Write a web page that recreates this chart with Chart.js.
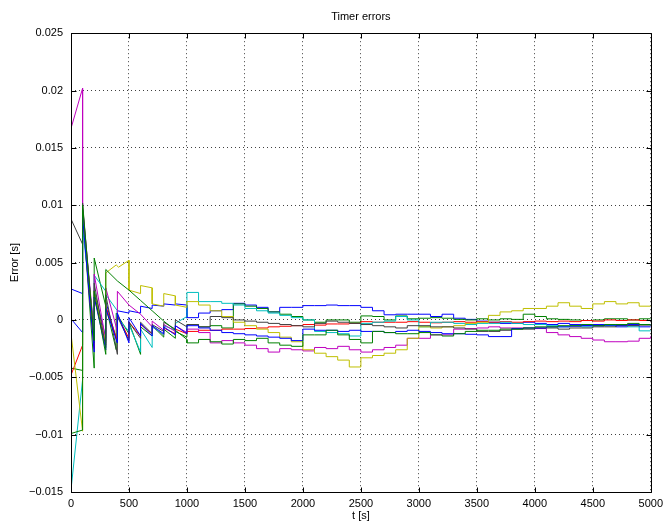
<!DOCTYPE html>
<html>
<head>
<meta charset="utf-8">
<title>Timer errors</title>
<script src="https://cdn.jsdelivr.net/npm/chart.js@4.4.1/dist/chart.umd.min.js"></script>
<style>
  html, body { margin: 0; padding: 0; background: #fff; }
  canvas { display: block; }
</style>
</head>
<body>
<canvas id="timerChart" width="668" height="523"></canvas>
<script>
// axis ticks
const xTicks = [0, 500, 1000, 1500, 2000, 2500, 3000, 3500, 4000, 4500, 5000];
const yTicks = [-0.015, -0.01, -0.005, 0, 0.005, 0.01, 0.015, 0.02, 0.025];

// after t=1000 every timer holds one level per 100 s step
const stepTimes = [1000, 1100, 1200, 1300, 1400, 1500, 1600, 1700, 1800, 1900,
                   2000, 2100, 2200, 2300, 2400, 2500, 2600, 2700, 2800, 2900,
                   3000, 3100, 3200, 3300, 3400, 3500, 3600, 3700, 3800, 3900,
                   4000, 4100, 4200, 4300, 4400, 4500, 4600, 4700, 4800, 4900, 5000];

// first 1000 s: [t, error] points, sawtooth with jumps
const blue1Early = [[0,0.0027],[100,0.0023],[100,0.0092],[200,-0.0012],[200,0.0026],[300,-0.0016],[300,0.0016],[400,-0.0020],[400,0.0008],[500,0.0006],[500,0.0008],[600,0.0006],[600,0.0012],[700,0.0010],[700,0.0013],[800,0.0012],[800,0.0014],[900,0.0013],[900,0.0014],[1000,0.0013]];
const blue1Steps = [0.0002,0.0006,0.0008,0.0009,0.00145,0.0013,0.0011,0.0007,0.0011,0.0011,
                    0.00125,0.00125,0.0013,0.00125,0.00125,0.0011,0.0008,0.00045,0.0005,0.0005,
                    0.0005,0.0003,0.0005,0.00015,0.00005,-0.0001,-0.0002,-0.0003,-0.0003,-0.0002,
                    -0.0003,-0.0004,-0.0003,-0.0004,-0.0005,-0.0004,-0.0005,-0.0006,-0.0005,-0.0006,-0.0006];

const green1Early = [[0,-0.0042],[100,-0.0044],[100,0.0096],[200,-0.0042],[200,0.0054],[390,-0.0026],[390,0.0006],[500,-0.0012],[500,-0.0002],[600,-0.0030],[600,-0.0006],[700,-0.0014],[700,-0.0005],[800,-0.0015],[800,-0.0008],[900,-0.0016],[900,-0.0010],[1000,-0.0015]];
const green1Steps = [-0.0004,-0.0006,-0.0005,-0.0007,0.0014,0.0012,0.0010,0.0007,0.0005,0.0003,
                     0.0000,-0.0002,0.0000,0.0000,-0.0002,0.00035,0.0003,0.0000,0.00035,0.0001,
                     0.00015,0.0002,0.00015,0.00005,0.0000,0.0001,0.0000,0.0001,0.00005,0.0005,
                     0.0003,0.0001,0.00005,0.0000,-0.00005,0.0000,0.0001,0.0001,0.0000,0.0001,0.0001];

const redEarly = [[0,-0.0048],[100,-0.0022],[100,0.0090],[200,-0.0025],[200,0.0020],[300,-0.0022],[300,0.0012],[400,-0.0018],[400,0.0004],[500,-0.0016],[500,-0.0002],[600,-0.0014],[600,-0.0004],[700,-0.0012],[700,-0.0006],[800,-0.0013],[800,-0.0007],[900,-0.0012],[900,-0.0008],[1000,-0.0012]];
const redSteps = [-0.0010,-0.0009,-0.0009,-0.0008,-0.0008,-0.00075,-0.0007,-0.0006,-0.00055,-0.0005,
                  -0.0004,-0.00045,-0.00035,-0.00035,-0.0003,-0.00015,-0.0002,-0.0002,-0.0002,-0.00015,
                  -0.0002,-0.00025,-0.0002,-0.00015,-0.0002,-0.00015,-0.0002,-0.00015,-0.0002,-0.00015,
                  -0.0001,-0.00015,-0.0001,-0.00015,-0.00005,-0.0001,0.0000,-0.00005,0.0000,-0.00005,-0.00005];

const cyanEarly = [[0,-0.0148],[100,-0.0052],[100,0.0080],[200,-0.0010],[200,0.0039],[300,0.0025],[300,0.0022],[400,0.0008],[400,0.0002],[500,-0.0010],[500,-0.0004],[600,-0.0028],[600,-0.0008],[700,-0.0024],[700,-0.0006],[800,-0.0013],[800,-0.0005],[900,-0.0009],[900,-0.0003],[1000,0.0003]];
const cyanSteps = [0.0024,0.0016,0.0016,0.00145,0.0013,0.0010,0.0008,0.0006,0.0004,0.0002,
                   0.0000,-0.0010,-0.0011,-0.0012,-0.0014,-0.0003,-0.0002,-0.0001,0.0003,0.0000,
                   -0.0006,-0.0002,-0.0002,-0.0003,-0.0004,-0.0003,-0.0003,-0.0002,-0.0003,-0.0004,
                   -0.0004,-0.0005,-0.0006,-0.0005,-0.0006,-0.0005,-0.0005,-0.0005,-0.0006,-0.00095,-0.00095];

const magentaEarly = [[0,0.0167],[100,0.0202],[100,0.0098],[200,-0.0012],[200,0.0040],[300,-0.0018],[300,0.0028],[400,-0.0010],[400,0.0025],[500,0.0013],[600,0.0005],[700,-0.0006],[700,-0.0001],[800,-0.0009],[800,-0.0004],[900,-0.0010],[900,-0.0005],[1000,-0.0011]];
const magentaSteps = [-0.0008,-0.0011,-0.0020,-0.0018,-0.0020,-0.0022,-0.0025,-0.0028,-0.0025,-0.0026,
                      -0.0027,-0.0024,-0.0025,-0.0023,-0.0026,-0.0028,-0.0026,-0.0024,-0.0022,-0.0016,
                      -0.0016,-0.0013,-0.0013,-0.0008,-0.00075,-0.0007,-0.0006,-0.0007,-0.0007,-0.0007,
                      -0.00075,-0.0011,-0.0013,-0.00145,-0.0016,-0.00175,-0.0019,-0.0019,-0.00185,-0.0016,-0.0014];

const yellowEarly = [[0,-0.0012],[100,-0.0097],[100,0.0092],[200,-0.0015],[200,0.0025],[300,-0.0020],[300,0.0041],[390,0.0048],[410,0.0046],[500,0.0052],[500,0.0026],[600,0.0023],[600,0.0030],[700,0.0028],[700,0.0014],[800,0.0012],[800,0.0023],[900,0.0021],[900,0.0013],[1000,0.0011]];
const yellowSteps = [0.0016,0.0013,0.0008,0.0003,-0.0002,-0.0005,-0.0008,-0.0011,-0.0015,-0.0019,
                     -0.0026,-0.0029,-0.0032,-0.0035,-0.0041,-0.0033,-0.0031,-0.0029,-0.0026,-0.0016,
                     -0.0006,-0.0007,-0.0006,-0.0005,-0.0003,-0.0002,0.0004,0.0007,0.0008,0.0010,
                     0.0010,0.0012,0.0015,0.0012,0.0010,0.0014,0.0016,0.0014,0.0015,0.0012,0.0012];

const blackEarly = [[0,0.0088],[100,0.0066],[100,0.0102],[200,-0.0020],[200,0.0032],[300,-0.0024],[300,0.0022],[400,-0.0030],[400,0.0003],[500,-0.0018],[500,-0.0002],[600,-0.0016],[600,-0.0002],[700,-0.0012],[700,-0.0004],[800,-0.0010],[800,-0.0002],[900,-0.0008],[900,0.0000],[1000,-0.0006]];
const blackSteps = [-0.0004,-0.0006,0.0003,0.0002,0.0000,-0.0001,-0.0002,-0.0003,-0.0004,-0.0005,
                    -0.0006,-0.0003,-0.0001,-0.0002,-0.0003,-0.0004,-0.0005,-0.0006,-0.0007,-0.0005,
                    -0.0005,-0.0006,-0.0006,-0.0007,-0.0008,-0.0010,-0.0010,-0.0009,-0.0008,-0.0008,
                    -0.0007,-0.0007,-0.0008,-0.0007,-0.0007,-0.0006,-0.0006,-0.0005,-0.0005,-0.00045,-0.00045];

const blue2Early = [[0,0.0001],[100,-0.0011],[100,0.0090],[200,-0.0028],[200,0.0020],[300,-0.0026],[300,0.0010],[400,-0.0020],[400,0.0006],[500,-0.0020],[500,0.0002],[600,-0.0014],[600,-0.0003],[700,-0.0014],[700,-0.0005],[800,-0.0012],[800,-0.0006],[900,-0.0013],[900,-0.0005],[1000,-0.0012]];
const blue2Steps = [-0.0005,-0.0007,-0.0009,-0.0011,-0.0012,-0.0013,-0.0014,-0.0015,-0.0016,-0.0018,
                    -0.0008,-0.0009,-0.0009,-0.0010,-0.0009,-0.0010,-0.0010,-0.0011,-0.0010,-0.0009,
                    -0.0010,-0.0011,-0.0012,-0.0012,-0.00125,-0.0013,-0.00145,-0.00145,-0.00075,-0.0007,
                    -0.0007,-0.0006,-0.0006,-0.00055,-0.0005,-0.0005,-0.00045,-0.00045,-0.0004,-0.0004,-0.0004];

const green2Early = [[0,-0.0099],[100,-0.0096],[100,0.0100],[200,-0.0018],[200,0.0025],[300,-0.0030],[300,0.0044],[400,0.0034],[500,0.0026],[600,0.0017],[700,0.0008],[800,-0.0001],[900,-0.0009],[1000,-0.0017]];
const green2Steps = [-0.0020,-0.0017,-0.0019,-0.0021,-0.0017,-0.0018,-0.0016,-0.0020,-0.0022,-0.0023,
                     -0.0013,-0.0013,-0.0009,-0.0013,-0.0017,-0.0020,-0.0010,-0.0011,-0.0012,-0.0012,
                     -0.0011,-0.0013,-0.0014,-0.0012,-0.0010,-0.0009,-0.0009,-0.0008,-0.0008,-0.0007,
                     -0.0006,-0.0006,-0.0005,-0.0005,-0.0004,-0.0005,-0.0004,-0.0004,-0.0003,-0.0004,-0.0004];

// plot order and colours (matlab colour order)
const series = [
    { early: blue1Early, steps: blue1Steps, color: "#0000ff" },
    { early: green1Early, steps: green1Steps, color: "#008000" },
    { early: redEarly, steps: redSteps, color: "#ff0000" },
    { early: cyanEarly, steps: cyanSteps, color: "#00bfbf" },
    { early: magentaEarly, steps: magentaSteps, color: "#bf00bf" },
    { early: yellowEarly, steps: yellowSteps, color: "#bfbf00" },
    { early: blackEarly, steps: blackSteps, color: "#404040" },
    { early: blue2Early, steps: blue2Steps, color: "#0000ff" },
    { early: green2Early, steps: green2Steps, color: "#008000" }
];

let datasets = [];
series.forEach(function(s) {
    let first = s.early.map(p => ({ x: p[0], y: p[1] }));
    first.push({ x: stepTimes[0], y: s.steps[0] });
    datasets.push({
        data: first,
        borderColor: s.color,
        borderWidth: 1,
        pointRadius: 0,
        tension: 0
    });
    datasets.push({
        data: s.steps.map((v, i) => ({ x: stepTimes[i], y: v })),
        borderColor: s.color,
        borderWidth: 1,
        pointRadius: 0,
        stepped: true
    });
});
// last plotted series on top, like matlab
datasets.reverse();

function fmtTick(v) {
    let r = Math.round(v * 1000) / 1000;
    if (r === 0) return "0";
    return String(r).replace("-", "\u2212");
}

// solid box and inward tick marks
const axesBox = {
    id: "axesBox",
    afterDraw(chart) {
        const { ctx, chartArea: a, scales } = chart;
        const L = Math.round(a.left) + 0.5, R = Math.round(a.right) + 0.5;
        const T = Math.round(a.top) + 0.5, B = Math.round(a.bottom) + 0.5;
        ctx.save();
        ctx.strokeStyle = "#000";
        ctx.lineWidth = 1;
        ctx.beginPath();
        xTicks.forEach(function(t) {
            let px = Math.round(scales.x.getPixelForValue(t)) + 0.5;
            ctx.moveTo(px, B); ctx.lineTo(px, B - 5);
            ctx.moveTo(px, T); ctx.lineTo(px, T + 5);
        });
        yTicks.forEach(function(v) {
            let py = Math.round(scales.y.getPixelForValue(v)) + 0.5;
            ctx.moveTo(L, py); ctx.lineTo(L + 5, py);
            ctx.moveTo(R, py); ctx.lineTo(R - 5, py);
        });
        ctx.rect(L, T, R - L, B - T);
        ctx.stroke();
        ctx.restore();
    }
};

Chart.defaults.font.family = '"Liberation Sans", Arial, sans-serif';
Chart.defaults.font.size = 11;
Chart.defaults.color = "#000";

new Chart(document.getElementById("timerChart"), {
    type: "line",
    data: { datasets: datasets },
    options: {
        responsive: false,
        animation: false,
        events: [],
        layout: { padding: { left: 0, right: 13, top: 0, bottom: 0 } },
        plugins: {
            legend: { display: false },
            tooltip: { enabled: false },
            title: {
                display: true,
                text: "Timer errors",
                fullSize: false,
                font: { size: 11, weight: "normal" },
                padding: { top: 10, bottom: 10 }
            }
        },
        scales: {
            x: {
                type: "linear",
                min: 0,
                max: 5000,
                afterBuildTicks: s => { s.ticks = xTicks.map(v => ({ value: v })); },
                afterFit: s => { s.height = 31; },
                ticks: { padding: 5, maxRotation: 0, autoSkip: false, callback: v => String(v) },
                grid: { color: "rgba(0,0,0,0.75)", drawTicks: false },
                border: { display: false, dash: [1, 3] },
                title: { display: true, text: "t [s]", padding: { top: 0, bottom: 0 } }
            },
            y: {
                type: "linear",
                min: -0.015,
                max: 0.025,
                afterBuildTicks: s => { s.ticks = yTicks.map(v => ({ value: v })); },
                afterFit: s => { s.width = 71; },
                ticks: { padding: 8, autoSkip: false, callback: fmtTick },
                grid: { color: "rgba(0,0,0,0.75)", drawTicks: false },
                border: { display: false, dash: [1, 3] },
                title: { display: true, text: "Error [s]", padding: { top: 8, bottom: 0 } }
            }
        }
    },
    plugins: [axesBox]
});
</script>
</body>
</html>
